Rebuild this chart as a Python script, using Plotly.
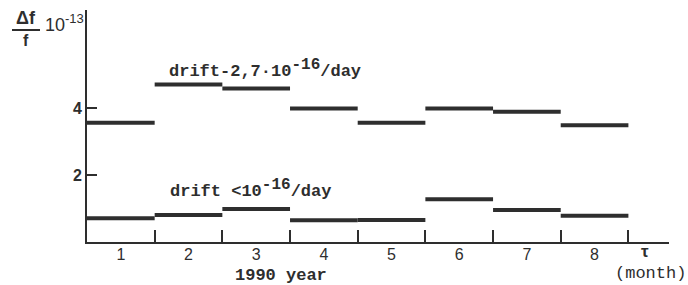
import plotly.graph_objects as go

months = [1, 2, 3, 4, 5, 6, 7, 8]
month_labels = ["1", "2", "3", "4", "5", "6", "7", "8"]
upper_values = [3.57, 4.72, 4.6, 4.0, 3.57, 4.0, 3.9, 3.5]
lower_values = [0.71, 0.81, 0.99, 0.65, 0.66, 1.28, 0.96, 0.79]
boundaries = [1.5, 2.5, 3.5, 4.5, 5.5, 6.5, 7.5, 8.5]
y_ticks = [2, 4]

INK = "#2e2e2e"


def segments(vals):
    xs, ys = [], []
    for m, v in zip(months, vals):
        xs += [m - 0.5, m + 0.5, None]
        ys += [v, v, None]
    return xs, ys


fig = go.Figure()
for vals in (upper_values, lower_values):
    xs, ys = segments(vals)
    fig.add_trace(go.Scatter(x=xs, y=ys, mode="lines",
                             line=dict(color=INK, width=4),
                             hoverinfo="skip", showlegend=False))

L, R, T, B = 87, 19, 10, 43
W, H = 688, 285
pw, ph = W - L - R, H - T - B


def px(x):
    return (x - L) / pw


def py(y):
    return (H - B - y) / ph


mono = "Liberation Mono"
sans = "Liberation Sans"

fig.update_layout(
    width=W, height=H,
    margin=dict(l=L, r=R, t=T, b=B),
    paper_bgcolor="white", plot_bgcolor="white",
    xaxis=dict(range=[0.5, 9.1], tickmode="array", tickvals=months,
               ticktext=month_labels, ticks="", showgrid=False, zeroline=False,
               showline=True, linecolor=INK, linewidth=2, ticklabelstandoff=-3,
               tickfont=dict(family=sans, size=16, color=INK),
               minor=dict(tickmode="array", tickvals=boundaries, ticks="inside",
                          ticklen=12, tickwidth=2, tickcolor=INK, showgrid=False)),
    yaxis=dict(range=[0, 6.95], tickmode="array", tickvals=y_ticks,
               ticktext=["<b>%d</b>" % t for t in y_ticks], ticks="inside", ticklen=10,
               tickwidth=2, tickcolor=INK, showgrid=False, zeroline=False,
               showline=True, linecolor=INK, linewidth=2,
               tickfont=dict(family=sans, size=16, color=INK)),
    font=dict(family=mono, color=INK),
)


def note(x, y, text, family, size):
    return dict(x=px(x), y=py(y), xref="paper", yref="paper", text=text,
                xanchor="center", yanchor="middle", showarrow=False,
                font=dict(family=family, size=size, color=INK))


SUP = "<sup><span style='font-size:16px'>-16</span></sup>"
ann = []
ann.append(dict(x=1.68, y=5.2, xref="x", yref="y", xanchor="left", yanchor="middle",
                text="<b>drift-2,7·10" + SUP + "/day</b>", showarrow=False,
                font=dict(family=mono, size=17, color=INK)))
ann.append(dict(x=1.7, y=1.6, xref="x", yref="y", xanchor="left", yanchor="middle",
                text="<b>drift &lt;10" + SUP + "/day</b>", showarrow=False,
                font=dict(family=mono, size=17, color=INK)))
# y-axis label  Δf / f  10^-13
ann.append(note(26, 18, "<b>Δf</b>", sans, 18))
ann.append(note(26, 40, "<b>f</b>", sans, 16))
ann.append(note(64, 23, "10<sup><span style='font-size:13px'>-13</span></sup>", sans, 18))
# x-axis labels
ann.append(note(281, 275, "<b>1990 year</b>", mono, 17))
ann.append(note(650, 273, "(month)", mono, 17))
ann.append(note(645, 251, "<b>τ</b>", sans, 17))
fig.update_layout(annotations=ann)

fig.add_shape(type="line", xref="paper", yref="paper",
              x0=px(12), x1=px(40), y0=py(30), y1=py(30),
              line=dict(color=INK, width=2))

fig.write_html("out.html", config={"displayModeBar": False},
               post_script="document.body.style.margin='0px';")
